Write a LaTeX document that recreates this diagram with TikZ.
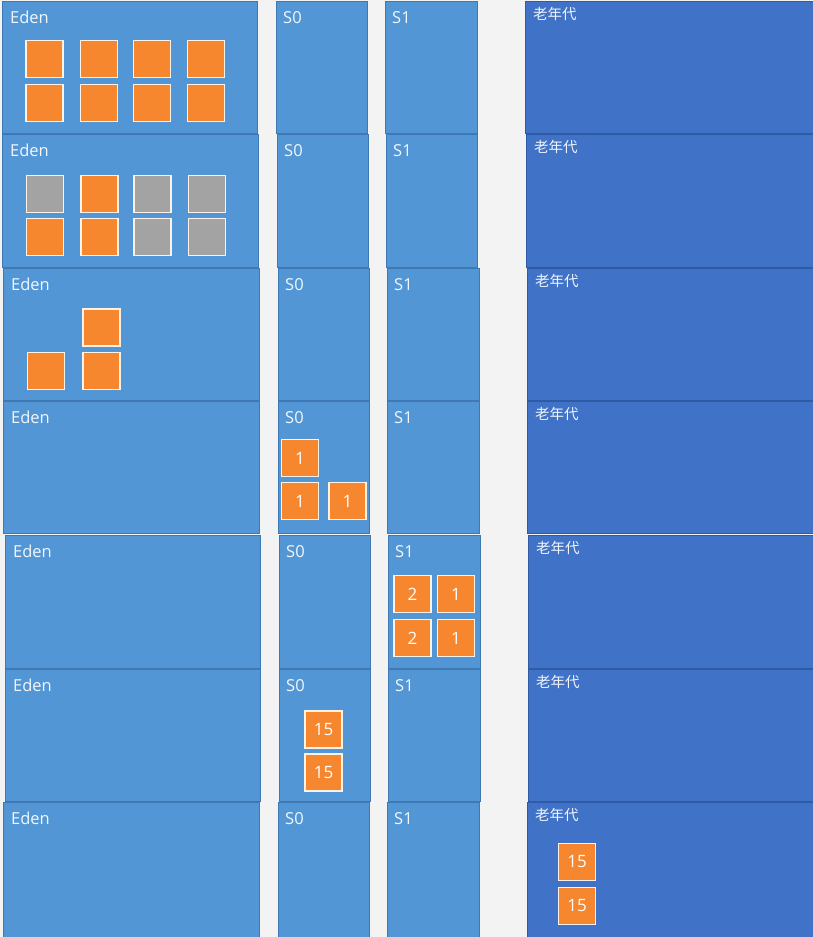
\documentclass[tikz,border=0pt]{standalone}
\usepackage{fontspec}
\setmainfont{Open Sans}
\newfontfamily\cjk{Noto Sans CJK SC}
\definecolor{heapbg}{HTML}{F3F3F3}
\definecolor{younggen}{HTML}{5396D5}
\definecolor{youngedge}{HTML}{3F79B3}
\definecolor{oldgen}{HTML}{4072C8}
\definecolor{oldedge}{HTML}{2F5AA4}
\definecolor{objorange}{HTML}{F6872F}
\definecolor{objgray}{HTML}{A3A3A3}

\tikzset{
  young/.style={fill=younggen,draw=youngedge,line width=.8pt},
  old/.style={fill=oldgen,draw=oldedge,line width=.8pt},
  genlabel/.style={anchor=base west,inner sep=0pt,text=white!92!younggen,
    font=\fontsize{16.5}{18}\selectfont},
  oldlabel/.style={anchor=base west,inner sep=0pt,text=white!92!oldgen,
    font=\cjk\fontsize{14.5}{16}\selectfont},
  obj/.style={fill=objorange,draw=white!88!objorange,line width=1.3pt,
    minimum size=36.8pt,inner sep=0pt,text=white,font=\fontsize{17}{19}\selectfont},
  dead/.style={obj,fill=objgray},
}

\begin{document}
\begin{tikzpicture}[x=1pt,y=-1pt]
  \useasboundingbox (0,0) rectangle (812,937);
  \fill[heapbg] (0,0) rectangle (812,937);

  % one row of the heap per GC step: Eden, S0, S1 and the old generation
  \foreach \r/\t/\b/\ea/\eb/\sa/\sb/\ta/\tb/\oa in {
    1/1/133/2/257/276/367/385/477/525,
    2/134/267/2/258/277/368/386/477/526,
    3/268/400/3/259/278/369/387/479/527,
    4/401/533/3/259/278/369/387/479/527,
    5/535/668/5/260/279/370/388/480/528,
    6/669/801/5/260/279/370/388/480/528,
    7/802/937/3/259/278/369/387/479/527}
  {
    \draw[young] (\ea,\t) rectangle (\eb,\b);
    \draw[young] (\sa,\t) rectangle (\sb,\b);
    \draw[young] (\ta,\t) rectangle (\tb,\b);
    \draw[old] (\oa,\t) rectangle (813,\b);
    \node[genlabel] (eden\r) at (\ea+8,\t+22.5) {Eden};
    \node[genlabel] (szero\r) at (\sa+7,\t+22.5) {S0};
    \node[genlabel] (sone\r) at (\ta+7,\t+22.5) {S1};
    \node[oldlabel] (tenured\r) at (\oa+8,\t+18.5) {老年代};
  }

  % step 1: Eden fills up
  \foreach \x [count=\i] in {44.5,99,152,206} {
    \node[obj] (full-a\i) at (\x,59) {};
    \node[obj] (full-b\i) at (\x,103) {};
  }

  % step 2: marking, the grey ones are garbage
  \node[dead] (mark-a1) at (45,194) {};
  \node[obj]  (mark-a2) at (99.5,194) {};
  \node[dead] (mark-a3) at (152.5,194) {};
  \node[dead] (mark-a4) at (207,194) {};
  \node[obj]  (mark-b1) at (45,237) {};
  \node[obj]  (mark-b2) at (99.5,237) {};
  \node[dead] (mark-b3) at (152.5,237) {};
  \node[dead] (mark-b4) at (207,237) {};

  % step 3: survivors left in Eden
  \node[obj] (live-1) at (46,371) {};
  \node[obj] (live-2) at (101.5,327.5) {};
  \node[obj] (live-3) at (101.5,371) {};

  % step 4: copied to S0 with age 1
  \node[obj] (sz-1) at (300,458) {1};
  \node[obj] (sz-2) at (300,501) {1};
  \node[obj] (sz-3) at (347.5,501) {1};

  % step 5: copied to S1, ages 2 and 1
  \node[obj] (so-1) at (412.5,594) {2};
  \node[obj] (so-2) at (456,594) {1};
  \node[obj] (so-3) at (412.5,638) {2};
  \node[obj] (so-4) at (456,638) {1};

  % step 6: age 15 reached
  \node[obj] (aged-1) at (323.5,729.5) {15};
  \node[obj] (aged-2) at (323.5,772.5) {15};

  % step 7: promoted to the old generation
  \node[obj] (promo-1) at (577,862) {15};
  \node[obj] (promo-2) at (577,906) {15};
\end{tikzpicture}
\end{document}
